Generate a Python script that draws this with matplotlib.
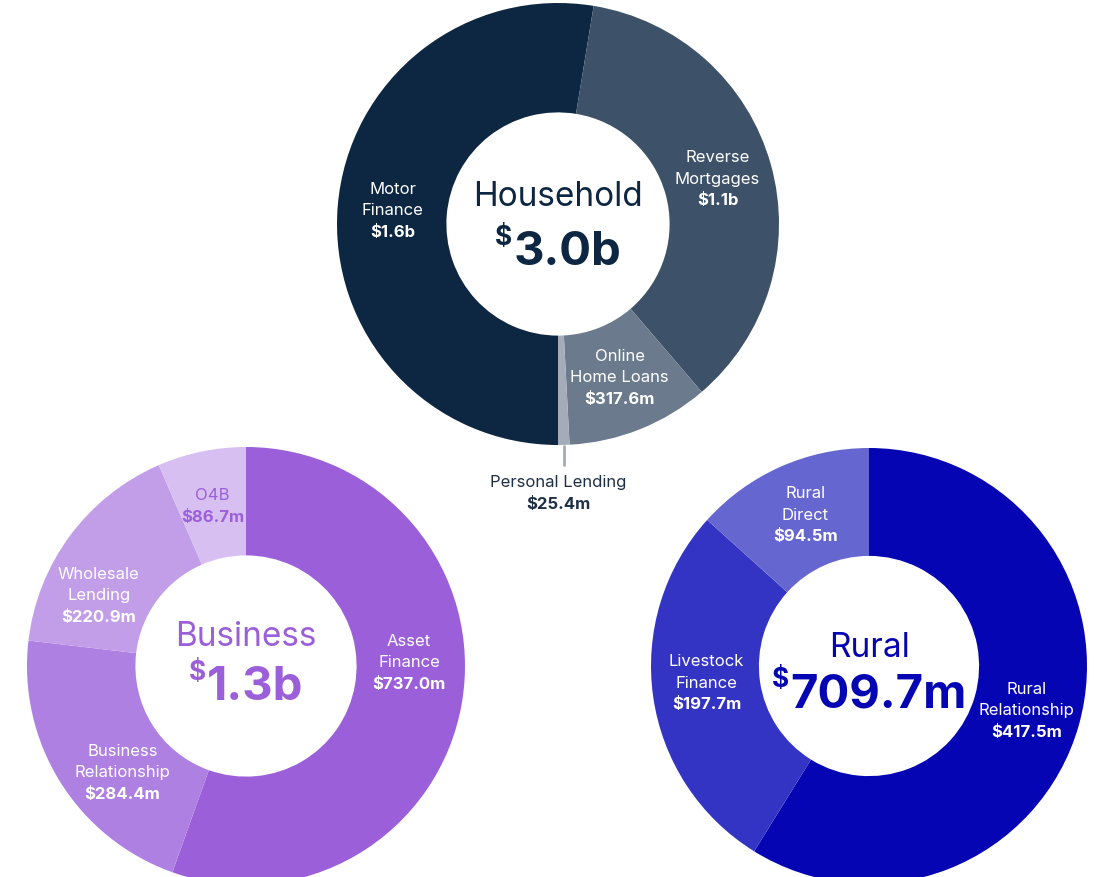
import numpy as np
from matplotlib import pyplot as plt

W, H = 1097, 877

household_names = ["Motor\nFinance", "Reverse\nMortgages", "Online\nHome Loans", "Personal Lending"]
household_values = [1600.0, 1100.0, 317.6, 25.4]
household_text = ["$1.6b", "$1.1b", "$317.6m", "$25.4m"]

business_names = ["Asset\nFinance", "Business\nRelationship", "Wholesale\nLending", "O4B"]
business_values = [737.0, 284.4, 220.9, 86.7]
business_text = ["$737.0m", "$284.4m", "$220.9m", "$86.7m"]

rural_names = ["Rural\nRelationship", "Livestock\nFinance", "Rural\nDirect"]
rural_values = [417.5, 197.7, 94.5]
rural_text = ["$417.5m", "$197.7m", "$94.5m"]

titles = ["Household", "Business", "Rural"]
totals = ["3.0b", "1.3b", "709.7m"]

plt.rcParams['font.family'] = ['Inter', 'DejaVu Sans']

# layout in figure pixels (y measured from the top)
charts = [
  dict(names=household_names, values=household_values, text=household_text,
       center=(558, 224), r=221, start=-90, lr=0.75,
       colors=['#0d2642', '#3d5269', '#6b7b8d', '#a3acb8'],
       main='#0d2642', label_colors=['white', 'white', 'white', '#1f2f45'],
       nudge=[0, 0, 0, 0], outside=[False, False, False, True],
       title_y=206, total_y=265),
  dict(names=business_names, values=business_values, text=business_text,
       center=(246, 666), r=219, start=90, lr=0.745,
       colors=['#9b60d9', '#ae80e1', '#c29ee9', '#d7bff1'],
       main='#9b60d9', label_colors=['white', 'white', 'white', '#9b60d9'],
       nudge=[-11, -9, -11, 0], outside=[False] * 4,
       title_y=646, total_y=700),
  dict(names=rural_names, values=rural_values, text=rural_text,
       center=(869, 666), r=218, start=90, lr=0.75,
       colors=['#0505b4', '#3434c4', '#6666d1'],
       main='#0505b4', label_colors=['white'] * 3,
       nudge=[0, 2, 1], outside=[False] * 3,
       title_y=657, total_y=707),
]

fig = plt.figure(figsize=(W / 100, H / 100), dpi=100)
ax = fig.add_axes([0, 0, 1, 1])

totals_drawn = []
for c, title, total in zip(charts, titles, totals):
  cx, cy = c['center']
  cy = H - cy
  r = c['r']
  wedges, _ = ax.pie(c['values'], colors=c['colors'], radius=r, center=(cx, cy),
                     startangle=c['start'], counterclock=False,
                     wedgeprops=dict(width=r * 0.495, linewidth=0))
  for w, name, val, col, nud, out in zip(wedges, c['names'], c['text'],
                                         c['label_colors'], c['nudge'], c['outside']):
    mid = np.radians((w.theta1 + w.theta2) / 2 - nud)
    if out:
      x0 = cx + r * np.cos(mid)
      y0 = cy + r * np.sin(mid)
      ax.plot([x0, x0], [y0, y0 - 21], color=c['colors'][-1], lw=2, solid_capstyle='butt')
      ax.text(cx, y0 - 38, name, ha='center', va='center', fontsize=12,
              color=col, parse_math=False)
      ax.text(cx, y0 - 60, val, ha='center', va='center', fontsize=12,
              color=col, fontweight='bold', parse_math=False)
      continue
    lx = cx + c['lr'] * r * np.cos(mid)
    ly = cy + c['lr'] * r * np.sin(mid)
    lines = name.split("\n") + [val]
    n = len(lines)
    for i, line in enumerate(lines):
      ax.text(lx, ly - (i - (n - 1) / 2) * 21.5, line, ha='center', va='center',
              fontsize=12, color=col, fontweight='bold' if i == n - 1 else 'normal',
              parse_math=False)

  ax.text(cx, H - c['title_y'], title, ha='center', va='baseline', fontsize=24,
          color=c['main'], parse_math=False)
  t_num = ax.text(cx, H - c['total_y'], total, ha='left', va='baseline', fontsize=34,
                  fontweight='bold', color=c['main'], parse_math=False)
  t_dol = ax.text(cx, H - c['total_y'] + 20, "$", ha='left', va='baseline', fontsize=19,
                  fontweight='bold', color=c['main'], parse_math=False)
  totals_drawn.append((cx, t_num, t_dol))

ax.set_xlim(0, W)
ax.set_ylim(0, H)
ax.set_aspect('equal')
ax.axis('off')

# centre "$" + number as one group
fig.canvas.draw()
renderer = fig.canvas.get_renderer()
for cx, t_num, t_dol in totals_drawn:
  wn = t_num.get_window_extent(renderer).width
  wd = t_dol.get_window_extent(renderer).width
  left = cx - (wn + wd + 1) / 2
  t_dol.set_x(left)
  t_num.set_x(left + wd + 1)

fig.savefig("out.png", dpi=100, facecolor='white')
